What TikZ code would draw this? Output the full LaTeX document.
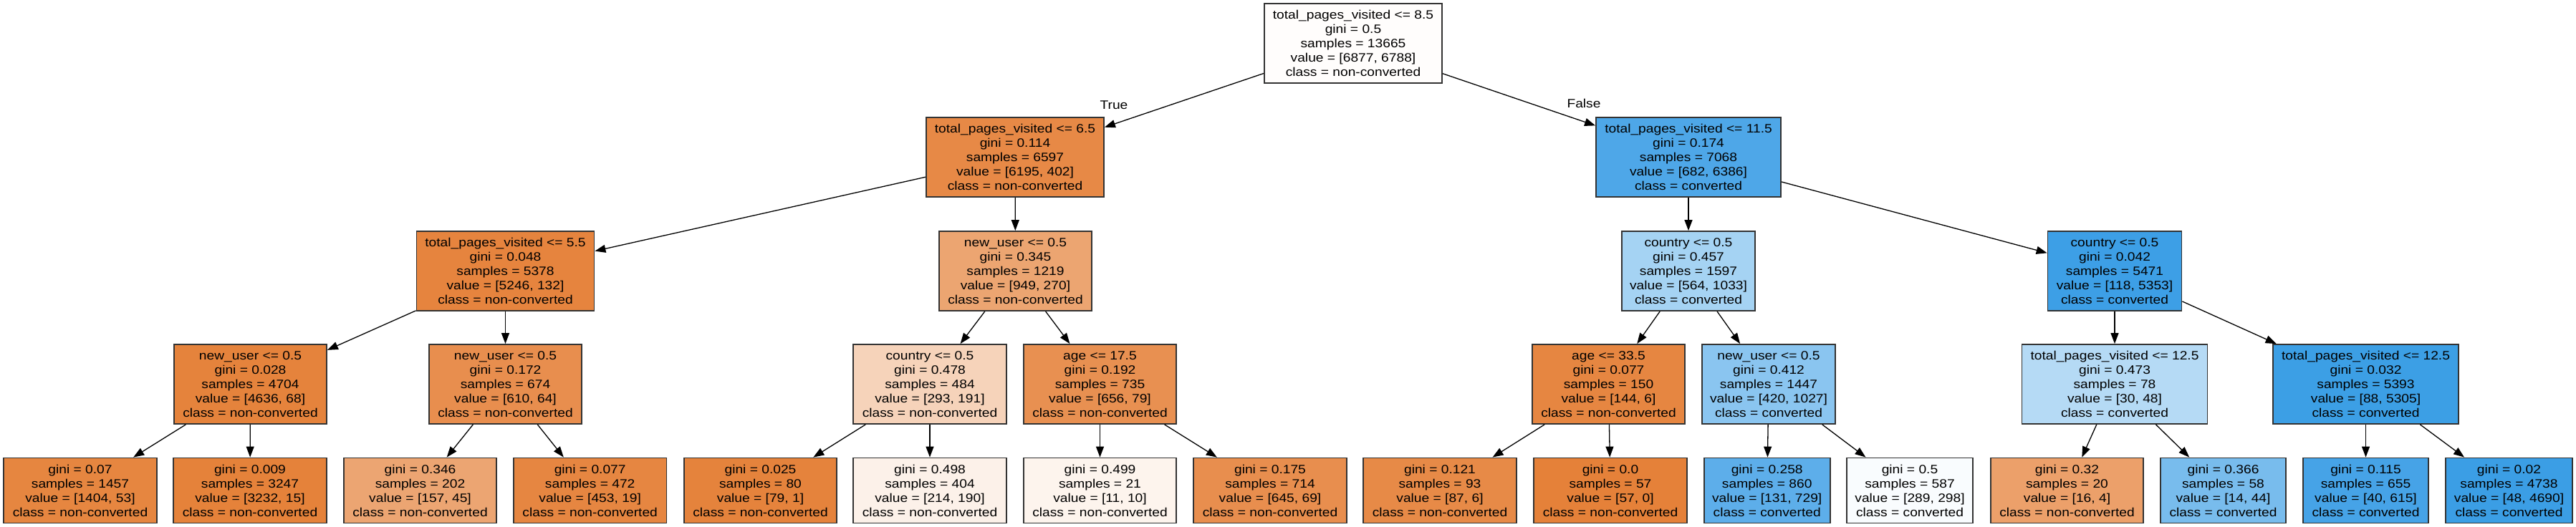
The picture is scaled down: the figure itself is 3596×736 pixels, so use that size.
\documentclass[tikz,border=0pt]{standalone}
\usepackage{fontspec}
\newfontfamily\gvfont[FakeStretch=1.13]{Liberation Sans}
\usetikzlibrary{arrows.meta}
\definecolor{c00}{HTML}{FFFDFC}
\definecolor{c01}{HTML}{E78946}
\definecolor{c02}{HTML}{4EA7E8}
\definecolor{c03}{HTML}{E6843E}
\definecolor{c04}{HTML}{ECA571}
\definecolor{c05}{HTML}{A5D3F3}
\definecolor{c06}{HTML}{3D9FE6}
\definecolor{c07}{HTML}{E5833C}
\definecolor{c08}{HTML}{E88E4E}
\definecolor{c09}{HTML}{F6D3BA}
\definecolor{c10}{HTML}{E89051}
\definecolor{c11}{HTML}{E68641}
\definecolor{c12}{HTML}{8AC5F0}
\definecolor{c13}{HTML}{B5DAF5}
\definecolor{c14}{HTML}{3C9FE5}
\definecolor{l01}{HTML}{E68640}
\definecolor{l02}{HTML}{E5823A}
\definecolor{l03}{HTML}{ECA572}
\definecolor{l04}{HTML}{E68641}
\definecolor{l05}{HTML}{E5833C}
\definecolor{l06}{HTML}{FCF1E9}
\definecolor{l07}{HTML}{FDF4ED}
\definecolor{l08}{HTML}{E88E4E}
\definecolor{l09}{HTML}{E78A47}
\definecolor{l10}{HTML}{E58139}
\definecolor{l11}{HTML}{5DAEEA}
\definecolor{l12}{HTML}{F9FCFE}
\definecolor{l13}{HTML}{ECA06A}
\definecolor{l14}{HTML}{78BCED}
\definecolor{l15}{HTML}{46A3E7}
\definecolor{l16}{HTML}{3B9EE5}
\tikzset{
  gvtext/.style={font=\gvfont\fontsize{17}{20}\selectfont},
  tbox/.style={gvtext, draw=black!80, line width=1.8pt, rectangle, align=center, inner sep=0pt},
  inner/.style={tbox, minimum height=111pt},
  leaf/.style={tbox, minimum height=91pt},
  edge/.style={draw=black, line width=1.3pt, -{Triangle[length=15pt,width=11pt]}},
  elabel/.style={gvtext, inner sep=0pt}
}
\begin{document}
\begin{tikzpicture}[x=1pt,y=-1pt]
\useasboundingbox (0,0) rectangle (3596,736);
% level 0
\node[inner, minimum width=248pt, fill=c00] (n0) at (1889,60.5) {total\_pages\_visited <= 8.5\\gini = 0.5\\samples = 13665\\value = [6877, 6788]\\class = non-converted};
% level 1
\node[inner, minimum width=248pt, fill=c01] (n1) at (1417,219.5) {total\_pages\_visited <= 6.5\\gini = 0.114\\samples = 6597\\value = [6195, 402]\\class = non-converted};
\node[inner, minimum width=258pt, fill=c02] (n2) at (2357,219.5) {total\_pages\_visited <= 11.5\\gini = 0.174\\samples = 7068\\value = [682, 6386]\\class = converted};
% level 2
\node[inner, minimum width=248pt, fill=c03] (a) at (705.5,378.5) {total\_pages\_visited <= 5.5\\gini = 0.048\\samples = 5378\\value = [5246, 132]\\class = non-converted};
\node[inner, minimum width=213pt, fill=c04] (b) at (1417.5,378.5) {new\_user <= 0.5\\gini = 0.345\\samples = 1219\\value = [949, 270]\\class = non-converted};
\node[inner, minimum width=186pt, fill=c05] (c) at (2357,378.5) {country <= 0.5\\gini = 0.457\\samples = 1597\\value = [564, 1033]\\class = converted};
\node[inner, minimum width=187pt, fill=c06] (d) at (2952,378.5) {country <= 0.5\\gini = 0.042\\samples = 5471\\value = [118, 5353]\\class = converted};
% level 3
\node[inner, minimum width=213pt, fill=c07] (e) at (349.5,536.5) {new\_user <= 0.5\\gini = 0.028\\samples = 4704\\value = [4636, 68]\\class = non-converted};
\node[inner, minimum width=213pt, fill=c08] (f) at (705.5,536.5) {new\_user <= 0.5\\gini = 0.172\\samples = 674\\value = [610, 64]\\class = non-converted};
\node[inner, minimum width=213.5pt, fill=c09] (g) at (1298,536.5) {country <= 0.5\\gini = 0.478\\samples = 484\\value = [293, 191]\\class = non-converted};
\node[inner, minimum width=213pt, fill=c10] (h) at (1535.5,536.5) {age <= 17.5\\gini = 0.192\\samples = 735\\value = [656, 79]\\class = non-converted};
\node[inner, minimum width=213pt, fill=c11] (i) at (2245.5,536.5) {age <= 33.5\\gini = 0.077\\samples = 150\\value = [144, 6]\\class = non-converted};
\node[inner, minimum width=186.5pt, fill=c12] (j) at (2469,536.5) {new\_user <= 0.5\\gini = 0.412\\samples = 1447\\value = [420, 1027]\\class = converted};
\node[inner, minimum width=259pt, fill=c13] (k) at (2952,536.5) {total\_pages\_visited <= 12.5\\gini = 0.473\\samples = 78\\value = [30, 48]\\class = converted};
\node[inner, minimum width=259pt, fill=c14] (l) at (3302.5,536.5) {total\_pages\_visited <= 12.5\\gini = 0.032\\samples = 5393\\value = [88, 5305]\\class = converted};
% level 4 (leaves)
\node[leaf, minimum width=214pt, fill=l01] (q1) at (112,685) {gini = 0.07\\samples = 1457\\value = [1404, 53]\\class = non-converted};
\node[leaf, minimum width=214pt, fill=l02] (q2) at (349,685) {gini = 0.009\\samples = 3247\\value = [3232, 15]\\class = non-converted};
\node[leaf, minimum width=213pt, fill=l03] (q3) at (586.5,685) {gini = 0.346\\samples = 202\\value = [157, 45]\\class = non-converted};
\node[leaf, minimum width=213.5pt, fill=l04] (q4) at (823.7,685) {gini = 0.077\\samples = 472\\value = [453, 19]\\class = non-converted};
\node[leaf, minimum width=213pt, fill=l05] (q5) at (1061.5,685) {gini = 0.025\\samples = 80\\value = [79, 1]\\class = non-converted};
\node[leaf, minimum width=213.5pt, fill=l06] (q6) at (1298,685) {gini = 0.498\\samples = 404\\value = [214, 190]\\class = non-converted};
\node[leaf, minimum width=213pt, fill=l07] (q7) at (1535.5,685) {gini = 0.499\\samples = 21\\value = [11, 10]\\class = non-converted};
\node[leaf, minimum width=213.5pt, fill=l08] (q8) at (1773,685) {gini = 0.175\\samples = 714\\value = [645, 69]\\class = non-converted};
\node[leaf, minimum width=213.5pt, fill=l09] (q9) at (2010,685) {gini = 0.121\\samples = 93\\value = [87, 6]\\class = non-converted};
\node[leaf, minimum width=213.5pt, fill=l10] (q10) at (2248,685) {gini = 0.0\\samples = 57\\value = [57, 0]\\class = non-converted};
\node[leaf, minimum width=176pt, fill=l11] (q11) at (2466.7,685) {gini = 0.258\\samples = 860\\value = [131, 729]\\class = converted};
\node[leaf, minimum width=176pt, fill=l12] (q12) at (2666,685) {gini = 0.5\\samples = 587\\value = [289, 298]\\class = converted};
\node[leaf, minimum width=213pt, fill=l13] (q13) at (2885.5,685) {gini = 0.32\\samples = 20\\value = [16, 4]\\class = non-converted};
\node[leaf, minimum width=175pt, fill=l14] (q14) at (3103.5,685) {gini = 0.366\\samples = 58\\value = [14, 44]\\class = converted};
\node[leaf, minimum width=175pt, fill=l15] (q15) at (3302.5,685) {gini = 0.115\\samples = 655\\value = [40, 615]\\class = converted};
\node[leaf, minimum width=177pt, fill=l16] (q16) at (3502.5,685) {gini = 0.02\\samples = 4738\\value = [48, 4690]\\class = converted};
% edges
\draw[edge] (n0) -- (n1);
\draw[edge] (n0) -- (n2);
\node[elabel] (tlab) at (1555,147) {True};
\node[elabel] (flab) at (2211,144) {False};
\draw[edge] (n1) -- (a);
\draw[edge] (n1) -- (b);
\draw[edge] (n2) -- (c);
\draw[edge] (n2) -- (d);
\draw[edge] (a) -- (e);
\draw[edge] (a) -- (f);
\draw[edge] (b) -- (g);
\draw[edge] (b) -- (h);
\draw[edge] (c) -- (i);
\draw[edge] (c) -- (j);
\draw[edge] (d) -- (k);
\draw[edge] (d) -- (l);
\draw[edge] (e) -- (q1);
\draw[edge] (e) -- (q2);
\draw[edge] (f) -- (q3);
\draw[edge] (f) -- (q4);
\draw[edge] (g) -- (q5);
\draw[edge] (g) -- (q6);
\draw[edge] (h) -- (q7);
\draw[edge] (h) -- (q8);
\draw[edge] (i) -- (q9);
\draw[edge] (i) -- (q10);
\draw[edge] (j) -- (q11);
\draw[edge] (j) -- (q12);
\draw[edge] (k) -- (q13);
\draw[edge] (k) -- (q14);
\draw[edge] (l) -- (q15);
\draw[edge] (l) -- (q16);
\end{tikzpicture}
\end{document}
